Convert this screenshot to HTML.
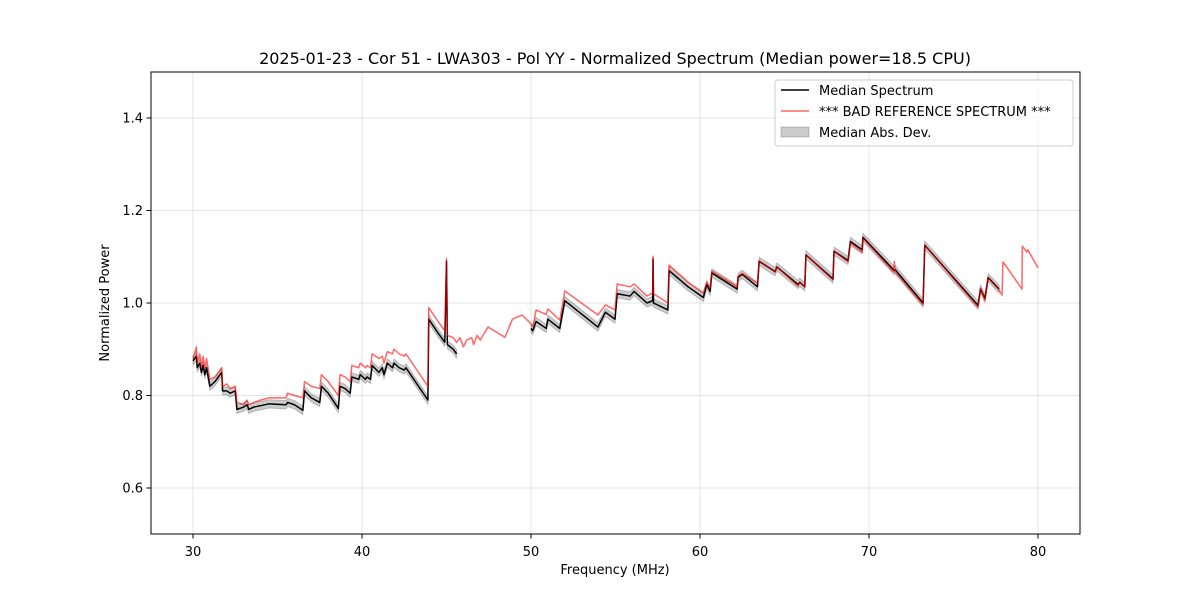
<!DOCTYPE html>
<html><head><meta charset="utf-8"><style>
body{margin:0;background:#fff;}
svg text{font-family:"DejaVu Sans","Liberation Sans",sans-serif;fill:#000;}
</style></head><body>
<svg id="chart" width="1200" height="600" xmlns="http://www.w3.org/2000/svg">
<rect width="1200" height="600" fill="#fff"/>
<g id="grid"></g>
<g id="marks"></g>
<rect x="151" y="72" width="929" height="462" fill="none" stroke="#000" stroke-width="1"/>
<g id="ticks"></g>
<text x="615" y="64" font-size="16" text-anchor="middle">2025-01-23 - Cor 51 - LWA303 - Pol YY - Normalized Spectrum (Median power=18.5 CPU)</text>
<text x="615" y="574" font-size="13" text-anchor="middle">Frequency (MHz)</text>
<text x="109" y="303" font-size="13" text-anchor="middle" transform="rotate(-90 109 303)">Normalized Power</text>
<g>
<rect x="775" y="80" width="298" height="66" rx="3" fill="#fff" fill-opacity="0.8" stroke="#ccc"/>
<line x1="781" y1="90" x2="809" y2="90" stroke="#000" stroke-width="1.5"/>
<text x="819" y="95" font-size="13">Median Spectrum</text>
<line x1="781" y1="111" x2="809" y2="111" stroke="#f00" stroke-opacity="0.6" stroke-width="1.5"/>
<text x="819" y="116" font-size="13">*** BAD REFERENCE SPECTRUM ***</text>
<rect x="781" y="127" width="28" height="10" fill="#000" fill-opacity="0.2" stroke="#000" stroke-opacity="0.2"/>
<text x="819" y="137" font-size="13">Median Abs. Dev.</text>
</g>
</svg>
<script>
const freqs=[30.0,30.2,30.25,30.4,30.5,30.6,30.7,30.8,31.0,31.3,31.7,31.75,32.0,32.2,32.5,32.6,33.0,33.2,33.3,33.6,34.0,34.5,35.5,35.6,36.0,36.5,36.6,37.0,37.5,37.6,38.0,38.6,38.7,39.0,39.3,39.4,39.8,39.9,40.2,40.3,40.5,40.6,41.0,41.2,41.3,41.5,41.8,41.9,42.2,42.5,42.6,43.9,43.95,44.5,44.9,45.0,45.05,45.4,45.6,45.8,46.0,46.2,46.5,46.6,46.8,47.0,47.46,48.46,48.9,49.47,50.0,50.1,50.2,50.3,50.9,51.0,51.7,52.0,53.96,54.4,54.97,55.1,55.86,56.1,56.86,57.2,57.22,57.25,58.1,58.17,59.3,60.2,60.4,60.6,60.7,62.2,62.25,62.5,63.4,63.5,64.44,64.55,65.8,65.9,66.2,66.27,67.87,67.93,68.76,68.9,69.6,69.64,71.45,71.5,71.55,73.2,73.3,76.45,76.6,76.86,77.05,77.7,77.87,77.93,79.05,79.07,79.35,79.4,80.0];
const badRef=[.880,.905,.870,.890,.860,.885,.860,.880,.835,.840,.860,.820,.825,.815,.820,.785,.780,.790,.780,.785,.790,.795,.795,.805,.800,.795,.830,.820,.815,.845,.830,.800,.845,.840,.830,.865,.860,.870,.860,.865,.860,.890,.880,.885,.870,.895,.890,.900,.890,.885,.890,.820,.990,.960,.940,1.095,.930,.925,.915,.925,.905,.920,.925,.910,.930,.920,.948,.926,.965,.974,.955,.950,.965,.985,.975,.987,.963,1.026,.974,.996,.985,1.041,1.035,1.041,1.015,1.022,1.100,1.020,1.000,1.082,1.045,1.022,1.045,1.032,1.069,1.035,1.058,1.064,1.043,1.091,1.067,1.078,1.037,1.045,1.035,1.104,1.050,1.112,1.089,1.130,1.110,1.140,1.067,1.090,1.067,.996,1.125,.991,1.032,1.006,1.054,1.028,1.017,1.089,1.030,1.123,1.110,1.115,1.076];
const median=[.875,.885,.860,.870,.850,.865,.845,.860,.820,.830,.850,.810,.810,.805,.810,.770,.775,.780,.770,.775,.778,.782,.780,.785,.780,.768,.810,.795,.785,.820,.805,.772,.820,.815,.805,.840,.835,.845,.835,.840,.835,.865,.850,.860,.845,.870,.860,.870,.860,.855,.860,.790,.965,.935,.915,1.090,.910,.900,.890,null,null,null,null,null,null,null,null,null,null,null,.945,.940,.950,.960,.945,.965,.945,1.005,.948,.980,.965,1.020,1.015,1.025,1.000,1.005,1.095,1.000,.985,1.070,1.035,1.012,1.040,1.025,1.065,1.030,1.055,1.062,1.035,1.090,1.068,1.078,1.040,1.045,1.035,1.104,1.052,1.112,1.092,1.133,1.115,1.142,1.072,1.070,1.072,1.000,1.125,.995,1.030,1.010,1.055,1.030,null,null,null,null,null,null,null];
const madHalf=0.009;
const xTicks=[30,40,50,60,70,80];
const yTicks=[0.6,0.8,1.0,1.2,1.4];
const NS='http://www.w3.org/2000/svg';
const X=f=>193+(f-30)*16.9;
const Y=v=>118+(1.4-v)*462.5;
function mk(tag,attrs,parent){const e=document.createElementNS(NS,tag);for(const k in attrs)e.setAttribute(k,attrs[k]);parent.appendChild(e);return e;}
const grid=document.getElementById('grid'),ticks=document.getElementById('ticks'),marks=document.getElementById('marks');
xTicks.forEach(t=>{const x=X(t);
 const g=mk('line',{x1:x,x2:x,y1:72,y2:534,stroke:'#000','stroke-opacity':0.1},grid);
 
 
 const tk=mk('line',{x1:x,x2:x,y1:534,y2:538.5,stroke:'#000'},ticks);
 
 
 const tl=mk('text',{x:x,y:556,'font-size':13,'text-anchor':'middle'},ticks);tl.textContent=t;
 
 
});
yTicks.forEach(t=>{const y=Y(t);
 const g=mk('line',{x1:151,x2:1080,y1:y,y2:y,stroke:'#000','stroke-opacity':0.1},grid);
 
 
 const tk=mk('line',{x1:146.5,x2:151,y1:y,y2:y,stroke:'#000'},ticks);
 
 
 const tl=mk('text',{x:143,y:y+4.5,'font-size':13,'text-anchor':'end'},ticks);tl.textContent=t.toFixed(1);
 
 
});
function segments(vals){const segs=[];let cur=[];vals.forEach((v,i)=>{if(v==null){if(cur.length)segs.push(cur);cur=[];}else cur.push(i);});if(cur.length)segs.push(cur);return segs;}
segments(median).forEach(seg=>{
 const up=seg.map(i=>X(freqs[i])+','+Y(median[i]+madHalf));
 const dn=seg.slice().reverse().map(i=>X(freqs[i])+','+Y(median[i]-madHalf));
 const p=mk('polygon',{points:up.concat(dn).join(' '),fill:'#000','fill-opacity':0.2,stroke:'#000','stroke-opacity':0.2,'stroke-width':1},marks);
 
 
});
segments(median).forEach(seg=>{
 const l=mk('polyline',{points:seg.map(i=>X(freqs[i])+','+Y(median[i])).join(' '),fill:'none',stroke:'#000','stroke-width':1.5,'stroke-linejoin':'round'},marks);
 
 
});
const r=mk('polyline',{points:freqs.map((f,i)=>X(f)+','+Y(badRef[i])).join(' '),fill:'none',stroke:'#f00','stroke-opacity':0.6,'stroke-width':1.5,'stroke-linejoin':'round'},marks);


</script>
</body></html>
